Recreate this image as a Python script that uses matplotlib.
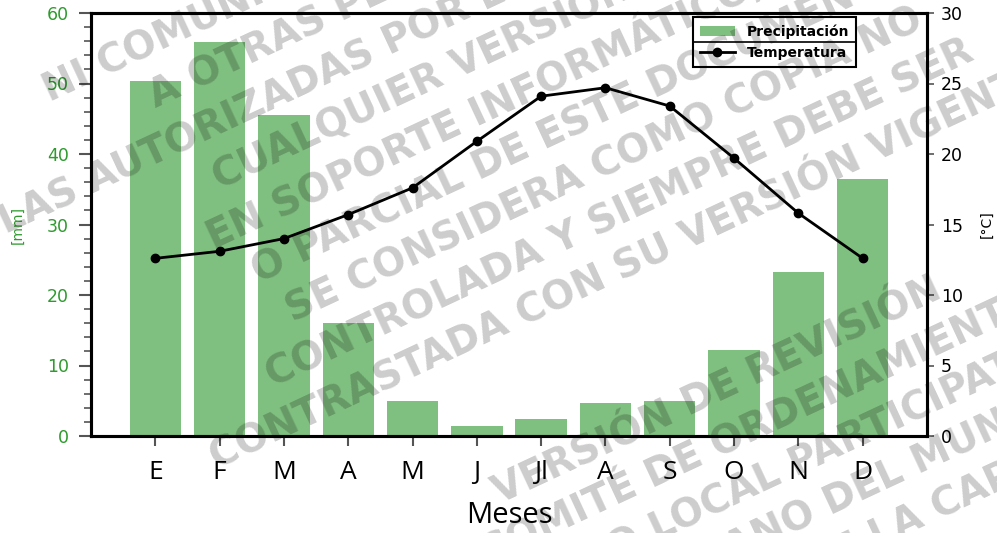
import matplotlib
matplotlib.use("Agg")
import matplotlib.pyplot as plt
from matplotlib.lines import Line2D
from matplotlib.ticker import MultipleLocator
import numpy as np

# Climogram data
months = ["E", "F", "M", "A", "M", "J", "Jl", "A", "S", "O", "N", "D"]
precip_mm = [50.4, 55.9, 45.5, 16.0, 4.9, 1.4, 2.4, 4.7, 5.0, 12.2, 23.3, 36.4]
temp_c = [12.6, 13.1, 14.0, 15.7, 17.6, 20.9, 24.1, 24.7, 23.4, 19.7, 15.8, 12.6]

# Watermark lines (text, start x px, baseline y px from top)
watermark = [
    ("NI COMUNICADO", 50, 103),
    ("A OTRAS PERSONAS DISTINTAS DE", 156, 109),
    ("LAS AUTORIZADAS POR EL AYUNTAMIENTO", 6, 235),
    ("CUALQUIER VERSIÓN IMPRESA", 220, 190),
    ("EN SOPORTE INFORMÁTICO, TOTAL", 213, 250),
    ("O PARCIAL DE ESTE DOCUMENTO", 259, 284),
    ("SE CONSIDERA COMO COPIA NO", 293, 323),
    ("CONTROLADA Y SIEMPRE DEBE SER", 273, 388),
    ("CONTRASTADA CON SU VERSIÓN VIGENTE", 217, 470),
    ("VERSIÓN DE REVISIÓN", 500, 505),
    ("COMITÉ DE ORDENAMIENTO", 488, 566),
    ("GOBIERNO LOCAL PARTICIPATIVO", 435, 646),
    ("URBANO DEL MUNICIPIO", 649, 601),
    ("DE LA CAPITAL", 811, 580),
]

W, H = 997, 533
GREEN_TXT = "#2e9b2e"

fig = plt.figure(figsize=(W / 100, H / 100), dpi=100)
ax = fig.add_axes([91 / W, 1 - 436 / H, (927 - 91) / W, (436 - 13) / H])
ax2 = ax.twinx()

x = np.arange(len(months))
bars = ax.bar(x, precip_mm, width=0.8, color="green", alpha=0.5, label="Precipitación")
line, = ax2.plot(x, temp_c, color="black", lw=2.0, marker="o", ms=6, label="Temperatura")

ax.set_xlim(-1, 12)
ax.set_ylim(0, 60)
ax2.set_ylim(0, 30)
ax.set_xticks(x)
ax.set_xticklabels(months, family="Open Sans", fontsize=19)
ax.yaxis.set_major_locator(MultipleLocator(10))
ax.yaxis.set_minor_locator(MultipleLocator(2))
ax2.yaxis.set_major_locator(MultipleLocator(5))

ax.tick_params(axis="y", which="major", length=9, width=1.5, color="#555555",
               labelsize=12.5, labelcolor=GREEN_TXT, pad=7)
ax.tick_params(axis="y", which="minor", length=5, width=1.2, color="#555555")
ax.tick_params(axis="x", length=7, width=1.5, color="#555555", pad=10)
ax2.tick_params(axis="y", length=5, width=1.2, color="#555555", labelsize=12.5, pad=5)

for a in (ax, ax2):
    for sp in a.spines.values():
        sp.set_linewidth(2.2)
        sp.set_color("black")

ax.set_xlabel("Meses", family="Open Sans", fontsize=21, labelpad=12)
ax.set_ylabel("[mm]", color=GREEN_TXT, fontsize=10, labelpad=16)
ax2.set_ylabel("[°C]", fontsize=10, labelpad=12)

leg = ax2.legend([bars, line], ["Precipitación", "Temperatura"], loc="upper right",
                 bbox_to_anchor=(0.915, 0.99), borderaxespad=0, fancybox=False,
                 framealpha=1, edgecolor="black", handlelength=2.5, handletextpad=0.85,
                 borderpad=0.5, labelspacing=0.5, prop={"weight": "bold", "size": 10})
leg.get_frame().set_linewidth(1.5)

for txt, px, py in watermark:
    fig.text(px / W, 1 - py / H, txt, rotation=25, rotation_mode="anchor",
             ha="left", va="baseline", fontsize=28, fontweight="bold",
             family="DejaVu Sans", color="black", alpha=0.2, zorder=10)

# divider line between the two legend rows, as in the reference
fig.canvas.draw()
bb = leg.get_window_extent().transformed(fig.transFigure.inverted())
ymid = (bb.y0 + bb.y1) / 2
fig.add_artist(Line2D([bb.x0, bb.x1], [ymid, ymid], color="black", lw=1.2))

fig.savefig("out.png", dpi=100)
